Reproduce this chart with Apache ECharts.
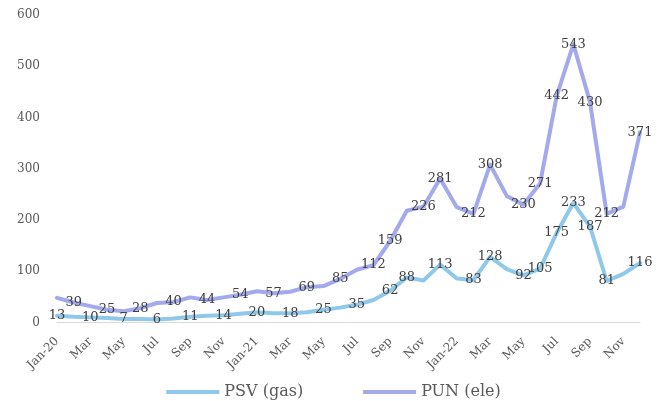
<!DOCTYPE html>
<html>
<head>
<meta charset="utf-8">
<script src="https://cdn.jsdelivr.net/npm/echarts@6/dist/echarts.min.js"></script>
<style>html,body{margin:0;padding:0;background:#fff}#c{width:667px;height:401px}</style>
</head>
<body>
<div id="c"></div>
<script>
const categories = ['Jan-20','Feb','Mar','Apr','May','Jun','Jul','Aug','Sep','Oct','Nov','Dec',
  'Jan-21','Feb','Mar','Apr','May','Jun','Jul','Aug','Sep','Oct','Nov','Dec',
  'Jan-22','Feb','Mar','Apr','May','Jun','Jul','Aug','Sep','Oct','Nov','Dec'];
const psv = [13,11,10,9,7,7,6,8,11,13,14,17,
  20,18,18,20,25,29,35,44,62,88,82,113,
  86,83,128,104,92,105,175,233,187,81,95,116];
const pun = [48,39,32,25,22,28,38,40,49,44,49,54,
  61,57,60,69,71,85,103,112,159,218,226,281,
  225,212,308,247,230,271,442,543,430,212,226,371];
const psvLabeled = [0,2,4,6,8,10,12,14,16,18,20,21,23,25,26,28,29,30,31,32,33,35];
const punLabeled = [1,3,5,7,9,11,13,15,17,19,20,22,23,25,26,28,29,30,31,32,33,35];
const seriesNames = ['PSV (gas)','PUN (ele)'];
const yTicks = {min:0, max:600, interval:100};

const FONT = "'DejaVu Serif', serif";
function mk(vals, lab){
  return vals.map((v,i)=>({value:v, label:{show: lab.indexOf(i)>=0}}));
}
const lbl = {position:'inside', offset:[3,-2], color:'#404040', fontFamily:FONT, fontSize:13};
const legTxt = {color:'#595959', fontFamily:FONT, fontSize:16};
const chart = echarts.init(document.getElementById('c'), null, {renderer:'canvas'});
chart.setOption({
  animation:false,
  textStyle:{fontFamily:FONT},
  grid:{left:57, right:27, top:15, bottom:78.5},
  xAxis:{type:'category', data:categories, boundaryGap:false,
    axisLine:{lineStyle:{color:'#d9d9d9', width:1}},
    axisTick:{show:false},
    axisLabel:{interval:1, rotate:45, color:'#595959', fontFamily:FONT, fontSize:12, margin:17}},
  yAxis:{type:'value', min:yTicks.min, max:yTicks.max, interval:yTicks.interval,
    splitLine:{show:false}, axisLine:{show:false}, axisTick:{show:false},
    axisLabel:{color:'#595959', fontFamily:FONT, fontSize:12, margin:17}},
  legend:{top:379, left:'center', itemWidth:53, itemHeight:4, itemGap:60, icon:'rect',
    data: seriesNames.map(n=>({name:n, textStyle:legTxt})),
    textStyle:legTxt},
  series:[
    {name:seriesNames[0], type:'line', data:mk(psv, psvLabeled), showSymbol:true, symbol:'circle', symbolSize:0,
      lineStyle:{color:'#90C8EA', width:4, join:'round', cap:'round'}, itemStyle:{color:'#90C8EA'},
      label:lbl, labelLayout:{hideOverlap:false}, z:3},
    {name:seriesNames[1], type:'line', data:mk(pun, punLabeled), showSymbol:true, symbol:'circle', symbolSize:0,
      lineStyle:{color:'#A3AAEC', width:4, join:'round', cap:'round'}, itemStyle:{color:'#A3AAEC'},
      label:lbl, labelLayout:{hideOverlap:false}, z:2}
  ]
});
</script>
</body>
</html>
